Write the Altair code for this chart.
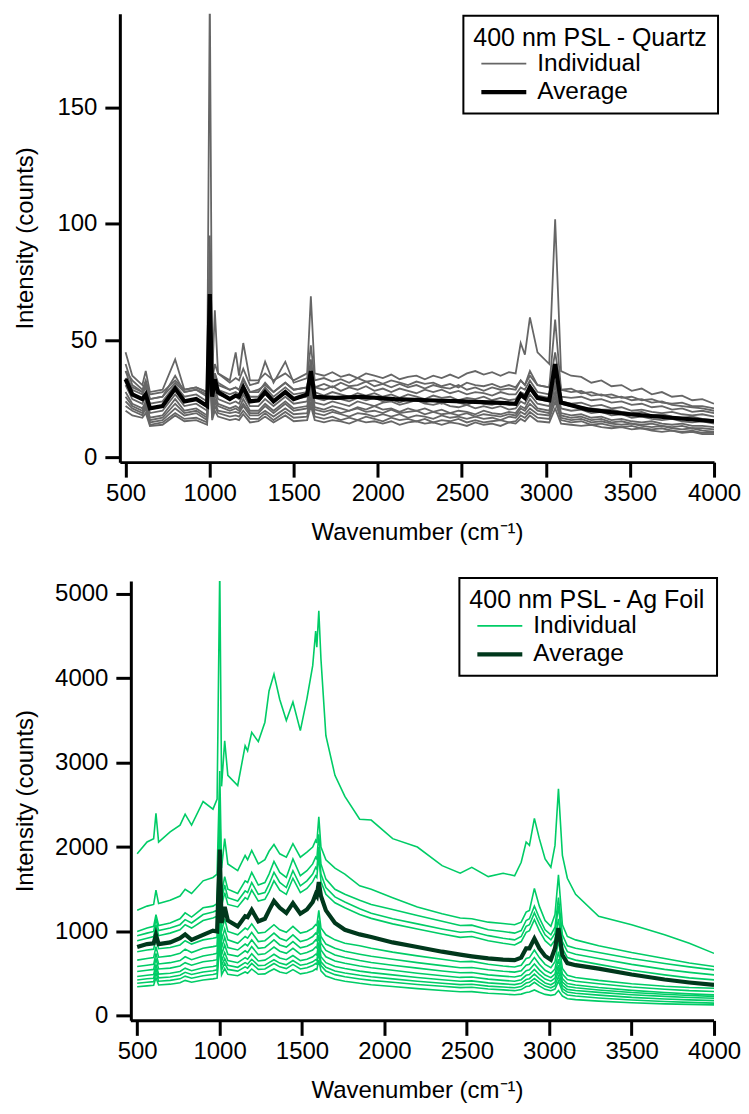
import altair as alt
import pandas as pd

FONT = "Liberation Sans"
KINDS = ["Individual", "Average"]
X_TICKS = [500, 1000, 1500, 2000, 2500, 3000, 3500, 4000]

# ---------------- Top panel: 400 nm PSL on quartz ----------------
wn_quartz_ind = [500, 540, 600, 620, 645, 720, 795, 850, 920, 985, 1001, 1015, 1031, 1050, 1120,
                 1155, 1175, 1200, 1240, 1290, 1330, 1380, 1450, 1500, 1580, 1602,
                 1625, 1680, 1730, 1780, 1830, 1880, 1930, 1980, 2030, 2080, 2130, 2180, 2230,
                 2280, 2330, 2380, 2430, 2480, 2530, 2580, 2630, 2680, 2730, 2780, 2820,
                 2850, 2875, 2905, 2950, 3020, 3055,
                 3090, 3150, 3210, 3270, 3330, 3390, 3450, 3510, 3570, 3630, 3690, 3750,
                 3810, 3870, 3930, 4000]

wn_quartz_avg = [500, 540, 600, 620, 645, 720, 795, 850, 920, 985, 1001, 1015, 1031, 1050, 1120,
                 1155, 1175, 1200, 1240, 1290, 1330, 1380, 1450, 1500, 1580, 1602, 1625, 1750, 1900,
                 2100, 2300, 2500, 2700, 2820, 2850, 2875, 2905, 2950, 3020, 3055, 3090, 3250, 3500,
                 3750, 4000]
quartz_avg = [33.5, 27, 25, 27, 21, 22, 29.5, 24, 25, 22, 70, 26, 33.5, 28, 25,
              26.5, 26, 30, 24, 24.5, 28, 24, 28, 25, 27, 37, 26, 25.5, 26,
              25, 24.5, 24, 23.5, 23, 27, 25.5, 30, 25.5, 24.5, 40, 23.5, 20.5, 18.5,
              17, 15.5]

quartz_ind_01 = [37, 33, 29, 33, 27, 28, 33, 29, 30, 28, 200, 34, 63, 36, 33, 45, 35, 49, 33, 33, 36, 33, 36, 33, 36, 69,
                 36, 35, 36.5, 34.5, 35.5, 34, 36, 35, 34, 35.5, 33.5, 34.5, 35, 33.5, 35, 34, 35.5, 34, 36, 37, 35.5, 36.5, 35, 36.5, 36,
                 49, 44, 60, 45, 40, 102,
                 37, 35, 34.5, 32, 33, 30.5, 31, 28.5, 29.5, 27, 28, 26, 26.5, 24.5, 25, 23]
quartz_ind_02 = [34, 30, 28, 31, 25, 26, 32, 28, 29, 27, 75, 30, 36, 31, 29, 30, 29, 33, 28, 29, 31, 28, 32, 29, 30, 42,
                 30, 31.5, 30, 32, 30.5, 31, 32.5, 30.5, 31.5, 30, 31.5, 30, 31, 29.5, 31, 30, 29.5, 31, 29, 30, 28.5, 30, 29, 29.5, 29,
                 33, 31, 37, 31, 30, 59,
                 29, 28, 28.5, 26.5, 27, 25.5, 26, 24.5, 25, 23.5, 24, 22.5, 22, 21.5, 21, 20]
quartz_ind_03 = [45, 35, 31, 37, 28, 29, 42, 29, 30, 28, 95, 33, 40, 36, 32, 34, 33, 38, 31, 32, 41, 32, 41, 32, 34, 48,
                 33, 34, 32.5, 33.5, 32, 34, 32.5, 33, 31.5, 33, 32, 31, 32.5, 31.5, 32, 30.5, 31.5, 30, 32, 31, 30.5, 31.5, 30, 31, 30,
                 33, 31, 35, 31, 30, 45,
                 29, 29.5, 27.5, 28, 26.5, 27, 25.5, 26, 24.5, 25, 23.5, 23, 23.5, 22, 22, 21]
quartz_ind_04 = [40, 31, 28, 32, 25, 26, 35, 28, 29, 26, 80, 29, 36, 32, 29, 30, 29, 34, 28, 28, 32, 28, 32, 29, 30, 40,
                 30, 29, 30.5, 28.5, 30, 29, 30.5, 28.5, 29.5, 28, 29.5, 28.5, 27.5, 29, 28, 29, 27.5, 28.5, 27, 28, 27.5, 26.5, 28, 27, 27,
                 30, 29, 33, 28, 27, 40,
                 26, 25.5, 26, 24.5, 25, 23.5, 24, 22.5, 23, 21.5, 22, 20.5, 21, 19.5, 20, 19]
quartz_ind_05 = [37, 29, 27, 30, 23, 24, 31, 26, 27, 24, 65, 27, 33, 29, 27, 28, 27, 31, 26, 26, 30, 26, 30, 27, 28, 37,
                 28, 26.5, 28, 27, 26, 27.5, 26.5, 27.5, 26, 27, 25.5, 27, 26, 25, 26.5, 25.5, 26, 24.5, 25.5, 25, 26, 24.5, 25.5, 24.5, 25,
                 28, 27, 31, 26.5, 25.5, 38,
                 24, 23, 23.5, 22, 22.5, 21, 21.5, 20, 20.5, 19.5, 19, 19.5, 18.5, 18, 18.5, 17.5]
quartz_ind_06 = [34, 27, 25, 27, 21, 22, 29, 24, 25, 22, 60, 25, 31, 27, 25, 26, 25, 29, 24, 24, 27, 24, 28, 25, 26, 34,
                 25.5, 24.5, 26, 25, 24, 25.5, 24.5, 25.5, 24, 25, 23.5, 25, 24.5, 23.5, 24.5, 23, 24.5, 23.5, 22.5, 24, 23, 22.5, 23.5, 22.5, 23,
                 26, 25, 29, 25, 24, 36,
                 23, 22, 21.5, 21, 20.5, 20.5, 19.5, 19, 19.5, 18, 18.5, 17.5, 17, 17.5, 16.5, 16]
quartz_ind_07 = [31, 25, 23, 26, 19, 20, 27, 22, 23, 20, 55, 23, 29, 25, 23, 24, 23, 27, 22, 22, 25, 22, 26, 23, 24, 32,
                 23.5, 22.5, 24, 23, 22, 24, 23, 22, 23.5, 24, 22.5, 23.5, 24.5, 23, 22.5, 23.5, 22, 21.5, 22.5, 21, 22, 21, 22, 20.5, 21,
                 24, 23, 27, 23, 22, 33,
                 21, 20, 20.5, 19, 19.5, 18, 18.5, 17, 17.5, 16.5, 16, 16.5, 15.5, 15, 15.5, 14.5]
quartz_ind_08 = [28, 23, 21, 24, 17, 18, 25, 20, 21, 18, 50, 21, 27, 23, 21, 22, 21, 25, 20, 20, 23, 20, 24, 21, 22, 30,
                 21.5, 20.5, 22, 21, 20, 21.5, 20.5, 22, 20.5, 21, 19.5, 21, 20, 21, 19.5, 20.5, 19, 20, 19.5, 18.5, 20, 19, 18.5, 19.5, 19,
                 22, 21, 25, 21, 20, 31,
                 19, 18, 18.5, 17, 17.5, 16, 16.5, 15.5, 15, 15.5, 14.5, 14, 14.5, 13.5, 13.5, 13]
quartz_ind_09 = [26, 22, 20, 23, 16, 17, 23, 19, 20, 17, 48, 20, 25, 22, 20, 21, 20, 23, 19, 19, 22, 19, 23, 20, 21, 28,
                 20.5, 19.5, 20.5, 19, 20, 21, 19.5, 20, 19, 20.5, 19, 19.5, 20, 18.5, 19.5, 18.5, 19, 18, 19, 17.5, 18.5, 18, 17.5, 18.5, 18,
                 21, 20, 23, 20, 19, 28,
                 18, 17, 17.5, 16, 16.5, 15, 15.5, 14.5, 14, 14.5, 13.5, 13, 13.5, 12.5, 12.5, 12]
quartz_ind_10 = [24, 21, 19, 22, 15, 16, 21, 18, 19, 16, 45, 19, 24, 20, 19, 19.5, 19, 22, 18, 18, 20, 17.5, 21, 18.5, 19, 26,
                 19, 18, 19.5, 18.5, 17.5, 19, 18.5, 17.5, 18.5, 17.5, 18.5, 17, 18, 17.5, 16.5, 18, 17, 17.5, 16.5, 17.5, 16.5, 17, 16, 17.5, 17,
                 19.5, 18.5, 21, 18.5, 18, 26,
                 17, 16, 16.5, 15, 15.5, 14.5, 14, 14.5, 13.5, 13, 13.5, 12.5, 12, 12.5, 11.5, 11]
quartz_ind_11 = [22, 20, 18, 21, 14, 15, 19, 16.5, 17, 15, 42, 17, 22, 19, 17.5, 18, 17.5, 20, 16.5, 16.5, 19, 16, 19.5, 17, 17.5, 24,
                 17.5, 16.5, 17.5, 16, 17, 16, 17.5, 16.5, 15.5, 17, 16, 16.5, 15.5, 16.5, 15, 16, 15.5, 16.5, 15, 16, 15, 15.5, 16, 15, 15.5,
                 18, 17, 19.5, 17, 16.5, 24,
                 16, 15, 15.5, 14, 14.5, 13.5, 13, 13.5, 12.5, 12, 12.5, 11.5, 11, 11.5, 10.5, 10.5]
quartz_ind_12 = [20, 18, 17, 19, 13.5, 14, 18, 15.5, 16, 14, 38, 16, 20, 17.5, 16, 16.5, 16, 18.5, 15, 15.5, 17.5, 15, 18, 15.5, 16, 22,
                 16, 15, 16, 15.5, 14.5, 16, 15, 15.5, 14.5, 15.5, 14, 15, 15.5, 14.5, 15, 14, 15, 14.5, 13.5, 15, 14, 14.5, 13.5, 15, 14.5,
                 16.5, 15.5, 18, 15.5, 15, 21,
                 14.5, 14, 13.5, 14, 13, 12.5, 13, 12, 12.5, 11.5, 11, 11.5, 10.5, 11, 10, 10]

# ---------------- Bottom panel: 400 nm PSL on Ag foil ----------------
wn_ag = [500, 560, 600, 614, 630, 700, 760, 791, 830, 900, 960, 985, 1001, 1012, 1031, 1050,
         1110, 1155, 1170, 1195, 1235, 1275, 1300, 1330, 1365, 1405, 1445, 1490, 1530, 1565,
         1583, 1590, 1602, 1615, 1645, 1700, 1760, 1850, 1920, 2050, 2200, 2350, 2460, 2530,
         2630, 2720, 2790, 2830, 2860, 2880, 2910, 2940, 2975, 3010, 3035, 3056, 3080, 3110,
         3160, 3300, 3500, 3700, 3850, 4000]

ag_avg = [815, 850, 860, 960, 850, 870, 920, 965, 900, 960, 1010, 1000, 1970, 1100, 1290, 1130,
          1060, 1180, 1170, 1255, 1120, 1150, 1250, 1360, 1280, 1220, 1335, 1210, 1260, 1350,
          1440, 1420, 1585, 1420, 1250, 1100, 1020, 965, 935, 870, 815, 760, 725, 705,
          680, 665, 660, 690, 800, 800, 915, 800, 710, 665, 800, 1040, 720, 625,
          600, 560, 490, 430, 395, 366]

ag_ind_01 = [1920, 2060, 2100, 2400, 2060, 2180, 2260, 2390, 2260, 2540, 2450, 2570, 5300, 2720, 3260, 2850,
             2730, 3200, 3140, 3360, 3250, 3480, 3850, 4050, 3750, 3500, 3720, 3380, 3760, 4150,
             4560, 4370, 4800, 4230, 3320, 2850, 2600, 2330, 2320, 2100, 2000, 1780, 1690, 1760,
             1650, 1690, 1660, 1820, 2060, 2020, 2340, 2100, 1860, 1760, 2020, 2690, 1900, 1630,
             1440, 1180, 1080, 960, 860, 740]
ag_ind_02 = [1250, 1300, 1320, 1490, 1330, 1370, 1420, 1500, 1450, 1600, 1640, 1680, 2900, 1750, 2100, 1800,
             1720, 1900, 1850, 1960, 1800, 1850, 1950, 2030, 1920, 1880, 2040, 1880, 1940, 2000,
             2080, 2050, 2360, 2000, 1850, 1750, 1680, 1540, 1500, 1400, 1290, 1210, 1160, 1150,
             1110, 1095, 1080, 1110, 1230, 1250, 1510, 1300, 1130, 1060, 1200, 1670, 1080, 940,
             900, 830, 750, 680, 625, 584]
ag_ind_03 = [1000, 1040, 1060, 1200, 1070, 1100, 1150, 1220, 1170, 1280, 1300, 1330, 2500, 1450, 1650, 1500,
             1450, 1600, 1580, 1700, 1550, 1580, 1680, 1830, 1700, 1640, 1860, 1660, 1720, 1800,
             1880, 1860, 2150, 1800, 1620, 1500, 1440, 1370, 1320, 1260, 1190, 1120, 1070, 1075,
             1020, 1000, 980, 1010, 1130, 1150, 1300, 1160, 1020, 960, 1050, 1400, 960, 830,
             800, 750, 680, 620, 580, 544]
ag_ind_04 = [950, 980, 1000, 1150, 1010, 1040, 1080, 1140, 1100, 1200, 1230, 1250, 2300, 1370, 1550, 1400,
             1360, 1480, 1460, 1580, 1440, 1460, 1560, 1700, 1580, 1520, 1720, 1540, 1600, 1680,
             1760, 1740, 2000, 1680, 1520, 1410, 1350, 1270, 1215, 1150, 1090, 1030, 990, 1000,
             950, 920, 900, 940, 1060, 1080, 1220, 1090, 960, 900, 980, 1300, 880, 760,
             730, 680, 610, 550, 515, 485]
ag_ind_05 = [890, 920, 940, 1080, 950, 980, 1020, 1080, 1040, 1130, 1160, 1180, 2150, 1300, 1460, 1320,
             1290, 1400, 1380, 1490, 1360, 1380, 1470, 1600, 1490, 1440, 1630, 1460, 1510, 1590,
             1660, 1640, 1900, 1590, 1440, 1340, 1280, 1200, 1155, 1090, 1030, 970, 930, 940,
             890, 860, 840, 880, 990, 1010, 1140, 1010, 890, 830, 900, 1150, 800, 690,
             660, 610, 540, 485, 450, 426]
ag_ind_06 = [760, 780, 790, 920, 795, 810, 840, 890, 850, 900, 920, 930, 1800, 1000, 1150, 1000,
             960, 1040, 1020, 1090, 980, 990, 1030, 1080, 1020, 990, 1060, 980, 1000, 1040,
             1080, 1070, 1250, 1040, 960, 900, 860, 830, 800, 755, 710, 670, 640, 645,
             612, 590, 578, 600, 680, 690, 780, 690, 610, 570, 640, 900, 560, 480,
             455, 420, 380, 350, 335, 327]
ag_ind_07 = [660, 680, 690, 820, 695, 710, 740, 790, 750, 800, 820, 830, 1600, 890, 1030, 900,
             860, 940, 920, 990, 880, 890, 930, 980, 920, 890, 960, 880, 900, 940,
             980, 970, 1130, 940, 850, 800, 765, 730, 705, 670, 630, 595, 570, 572,
             545, 528, 518, 535, 600, 610, 690, 610, 540, 505, 555, 760, 495, 430,
             410, 380, 342, 315, 298, 288]
ag_ind_08 = [585, 600, 610, 740, 615, 630, 655, 700, 665, 710, 730, 740, 1400, 800, 930, 810,
             780, 850, 830, 900, 800, 810, 850, 900, 840, 815, 880, 805, 825, 860,
             900, 890, 1050, 860, 775, 720, 690, 655, 632, 600, 565, 532, 510, 514,
             485, 470, 460, 478, 535, 545, 615, 545, 483, 452, 495, 670, 440, 383,
             366, 335, 302, 277, 260, 248]
ag_ind_09 = [525, 540, 550, 680, 555, 565, 590, 630, 600, 640, 655, 665, 1250, 720, 840, 730,
             705, 770, 750, 820, 725, 735, 770, 815, 765, 740, 800, 730, 750, 780,
             815, 805, 960, 780, 700, 650, 622, 590, 570, 540, 505, 475, 455, 460,
             435, 420, 410, 428, 480, 490, 550, 490, 435, 410, 445, 600, 400, 348,
             332, 306, 276, 255, 240, 230]
ag_ind_10 = [465, 480, 490, 610, 495, 505, 525, 565, 535, 570, 585, 595, 1150, 645, 750, 655,
             630, 690, 670, 735, 650, 660, 690, 730, 685, 665, 715, 655, 670, 700,
             730, 720, 870, 700, 630, 585, 560, 530, 512, 485, 455, 428, 410, 414,
             390, 378, 370, 385, 430, 440, 495, 440, 390, 368, 398, 535, 360, 313,
             300, 278, 250, 230, 217, 209]
ag_ind_11 = [425, 440, 445, 560, 450, 460, 480, 515, 490, 520, 535, 545, 1050, 590, 680, 600,
             575, 630, 615, 670, 595, 600, 630, 665, 625, 605, 655, 600, 615, 640,
             665, 660, 800, 640, 575, 532, 508, 480, 463, 438, 410, 386, 370, 374,
             352, 341, 333, 347, 388, 397, 442, 397, 352, 332, 356, 470, 322, 282,
             268, 245, 218, 200, 189, 180]
ag_ind_12 = [385, 398, 405, 510, 410, 420, 438, 470, 445, 475, 490, 500, 950, 540, 625, 550,
             530, 580, 565, 620, 550, 555, 585, 620, 580, 560, 610, 555, 570, 595,
             620, 612, 740, 595, 530, 488, 462, 437, 420, 397, 372, 350, 334, 338,
             317, 307, 298, 311, 347, 354, 397, 354, 314, 297, 317, 410, 287, 247,
             234, 212, 187, 170, 159, 150]
ag_ind_13 = [345, 355, 362, 450, 366, 375, 392, 420, 398, 425, 438, 446, 850, 485, 560, 492,
             475, 520, 505, 555, 492, 497, 525, 555, 520, 502, 548, 497, 510, 532,
             555, 548, 660, 532, 472, 434, 410, 385, 369, 347, 322, 300, 285, 287,
             268, 258, 250, 257, 277, 282, 307, 280, 254, 242, 252, 300, 234, 202,
             192, 174, 154, 141, 135, 130]

quartz_individual = [quartz_ind_01, quartz_ind_02, quartz_ind_03, quartz_ind_04, quartz_ind_05,
                     quartz_ind_06, quartz_ind_07, quartz_ind_08, quartz_ind_09, quartz_ind_10,
                     quartz_ind_11, quartz_ind_12]
ag_individual = [ag_ind_01, ag_ind_02, ag_ind_03, ag_ind_04, ag_ind_05, ag_ind_06, ag_ind_07,
                 ag_ind_08, ag_ind_09, ag_ind_10, ag_ind_11, ag_ind_12, ag_ind_13]


def make_frame(wn_ind, individuals, wn_avg, avg):
    rows = []
    for i, ys in enumerate(individuals):
        for w, v in zip(wn_ind, ys):
            rows.append({"wn": w, "val": v, "id": f"s{i:02d}", "kind": "Individual"})
    for w, v in zip(wn_avg, avg):
        rows.append({"wn": w, "val": v, "id": "avg", "kind": "Average"})
    return pd.DataFrame(rows)


LINE_SYMBOL = "M-1.875,0L1.875,0"


def panel(df, legend_title, ind_color, avg_color, ind_width, x_domain, y_domain, y_ticks,
          w, h, lx, ly, y_offset=0, y_title_pad=19, x_axis_start=None):
    legend = alt.Legend(
        title=legend_title, orient="none", legendX=lx, legendY=ly,
        strokeColor="black", fillColor="white", padding=10,
        titleFont=FONT, titleFontSize=25, titleFontWeight="normal", titleColor="black",
        titleLimit=400, titlePadding=0,
        labelFont=FONT, labelFontSize=24.5, labelColor="black", labelOffset=19,
        symbolType=LINE_SYMBOL, symbolSize=576, symbolOffset=16, rowPadding=2,
    )
    color = alt.Color("kind:N", sort=KINDS,
                      scale=alt.Scale(domain=KINDS, range=[ind_color, avg_color]),
                      legend=legend)
    stroke_w = alt.StrokeWidth("kind:N", sort=KINDS,
                               scale=alt.Scale(domain=KINDS, range=[ind_width, 4.2]),
                               legend=legend)
    x = alt.X("wn:Q", scale=alt.Scale(domain=x_domain, nice=False, zero=False),
              axis=alt.Axis(values=X_TICKS, format="d", title="Wavenumber (cm⁻¹)",
                            labelPadding=4, titlePadding=15, labelFlush=False,
                            domain=x_axis_start is None))
    y = alt.Y("val:Q", scale=alt.Scale(domain=y_domain, nice=False, zero=False),
              axis=alt.Axis(values=y_ticks, format="d", title="Intensity (counts)",
                            labelPadding=8, titlePadding=y_title_pad, offset=y_offset))
    base = alt.Chart(df).encode(x=x, y=y, detail="id:N", color=color, strokeWidth=stroke_w)
    ind = base.transform_filter(alt.datum.kind == "Individual").mark_line(clip=True)
    avg = base.transform_filter(alt.datum.kind == "Average").mark_line(clip=True)
    layers = [ind, avg]
    if x_axis_start is not None:
        axis_line = alt.Chart(pd.DataFrame({"a": [x_axis_start], "b": [x_domain[1]]})).mark_rule(
            color="black", strokeWidth=3
        ).encode(x=alt.X("a:Q"), x2=alt.X2("b"), y=alt.value(h + 0.5))
        layers.append(axis_line)
    return alt.layer(*layers).properties(width=w, height=h)


top = panel(make_frame(wn_quartz_ind, quartz_individual, wn_quartz_avg, quartz_avg),
            "400 nm PSL - Quartz", "#666666", "#000000", 1.8,
            [466, 4000], [-2, 190], [0, 50, 100, 150], 595, 449, 344, 2)
bottom = panel(make_frame(wn_ag, ag_individual, wn_ag, ag_avg),
               "400 nm PSL - Ag Foil", "#00cc66", "#00381c", 1.6,
               [394.85, 4000], [-54, 5154], [0, 1000, 2000, 3000, 4000, 5000], 595, 440, 340, -3,
               y_offset=-11, y_title_pad=16.6, x_axis_start=461.5)

chart = alt.vconcat(top, bottom, spacing=33).resolve_scale(
    color="independent", strokeWidth="independent", x="independent", y="independent"
).resolve_legend(
    color="independent", strokeWidth="independent"
).properties(
    padding={"left": 5, "top": 5, "right": 0, "bottom": 0}
).configure(
    font=FONT
).configure_view(
    stroke=None
).configure_axis(
    domainColor="black", domainWidth=3, tickColor="black", tickWidth=3, tickSize=15,
    labelFont=FONT, labelFontSize=24, labelColor="black",
    titleFont=FONT, titleFontSize=24, titleFontWeight="normal", titleColor="black",
    grid=False,
).configure_legend(
    strokeWidth=2
)

chart.save("out.html", embed_options={"renderer": "svg", "actions": False})
